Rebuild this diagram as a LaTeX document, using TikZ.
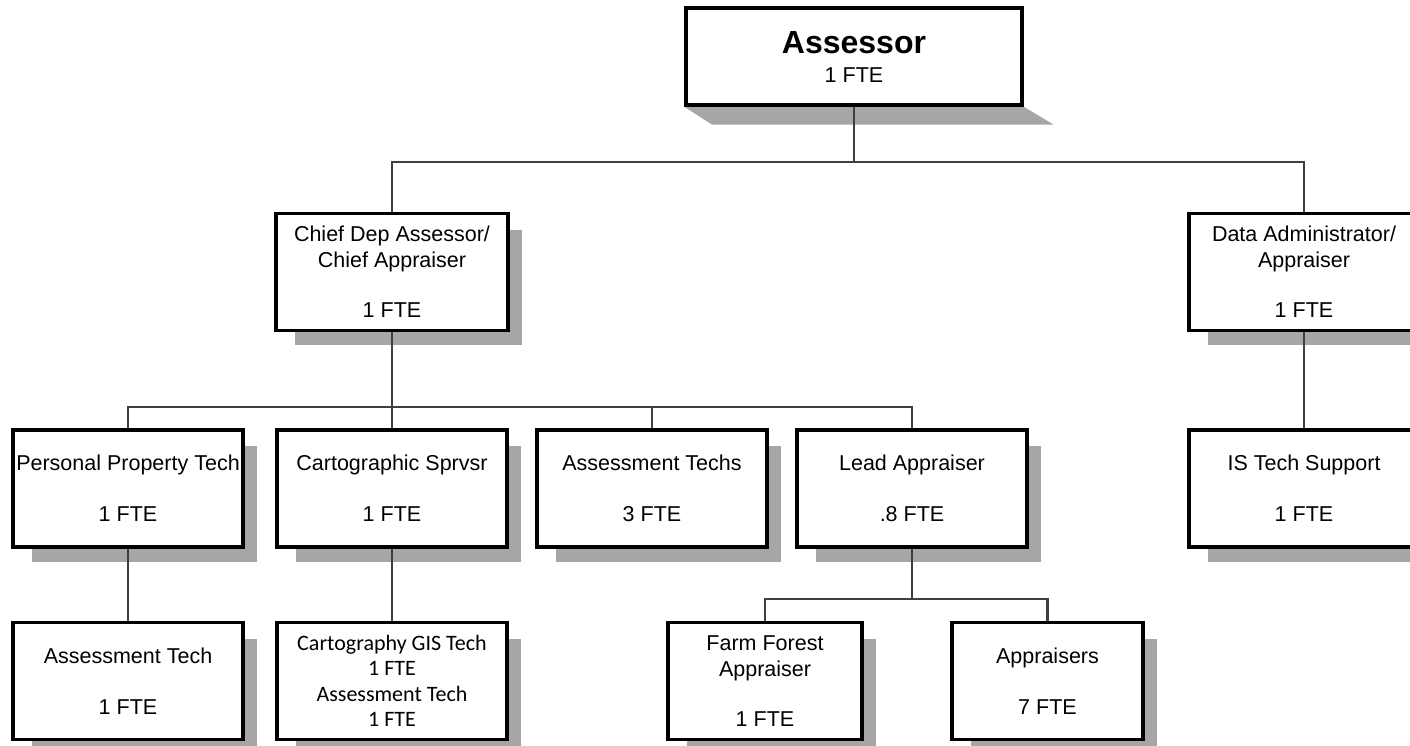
\documentclass[tikz,border=0pt]{standalone}
\usepackage{fontspec}
\setmainfont{Liberation Sans}
\newfontfamily\calibrifont{Carlito}
\usepackage{xcolor}
\usepackage{tikz}
\usetikzlibrary{positioning, backgrounds}
\definecolor{shadowgray}{HTML}{A6A6A6}
\definecolor{linkgray}{HTML}{404040}

\begin{document}
\begin{tikzpicture}[
    x=1pt, y=-1pt,
    post/.style={rectangle, draw, line width=3.5pt, fill=white, inner sep=0pt, align=center,
        minimum width=230pt, minimum height=117pt, font=\fontsize{21.5}{26}\selectfont},
    link/.style={draw=linkgray, line width=2.2pt}
]
\useasboundingbox (0,0) rectangle (1410,746);
\clip (0,0) rectangle (1410,746);

\node[post, minimum width=336pt, minimum height=97pt] (assessor) at (854,56.5)
    {{\fontsize{32}{32}\selectfont\bfseries Assessor}\\[3pt]1 FTE};
\node[post, minimum width=232pt] (chief) at (392,272) {Chief Dep Assessor/\\Chief Appraiser\\[24pt]1 FTE};
\node[post] (admin) at (1304,272) {Data Administrator/\\Appraiser\\[24pt]1 FTE};

\node[post] (pptech) at (128,488.5) {Personal Property Tech\\[25pt]1 FTE};
\node[post] (carto) at (392,488.5) {Cartographic Sprvsr\\[25pt]1 FTE};
\node[post] (atechs) at (652,488.5) {Assessment Techs\\[25pt]3 FTE};
\node[post] (lead) at (912,488.5) {Lead Appraiser\\[25pt].8 FTE};
\node[post] (istech) at (1304,488.5) {IS Tech Support\\[25pt]1 FTE};

\node[post] (atech) at (128,681) {Assessment Tech\\[25pt]1 FTE};
\node[post, font=\calibrifont\fontsize{22}{25.5}\selectfont] (gistech) at (392,681)
    {Cartography GIS Tech\\1 FTE\\Assessment Tech\\1 FTE};
\node[post, minimum width=194pt] (farm) at (765,681) {Farm Forest\\Appraiser\\[24pt]1 FTE};
\node[post, minimum width=191pt] (appr) at (1047.5,681) {Appraisers\\[25pt]7 FTE};

% shadows
\begin{scope}[on background layer]
\fill[shadowgray] (assessor.south west) -- (assessor.south east)
    -- ([xshift=30pt,yshift=-18pt]assessor.south east) -- ([xshift=28pt,yshift=-18pt]assessor.south west) -- cycle;
\foreach \n in {chief,admin,pptech,carto,atechs,lead,istech,atech,gistech,farm,appr}
    \fill[shadowgray] ([xshift=21pt,yshift=-18pt]\n.north west) rectangle ([xshift=12pt,yshift=-13pt]\n.south east);
\end{scope}

% connectors
\coordinate (topbus) at (854,162);
\coordinate (chiefbus) at (392,407);
\coordinate (leadbus) at (912,599);
\draw[link] (assessor.south) -- (topbus);
\draw[link] (chief.north) |- (topbus) -| (admin.north);
\draw[link] (chief.south) -- (carto.north);
\draw[link] (pptech.north) |- (chiefbus) -| (lead.north);
\draw[link] (atechs.north) -- (atechs.north |- chiefbus);
\draw[link] (admin.south) -- (istech.north);
\draw[link] (pptech.south) -- (atech.north);
\draw[link] (carto.south) -- (gistech.north);
\draw[link] (lead.south) -- (leadbus);
\draw[link] (farm.north) |- (leadbus) -| (appr.north);
\end{tikzpicture}
\end{document}
